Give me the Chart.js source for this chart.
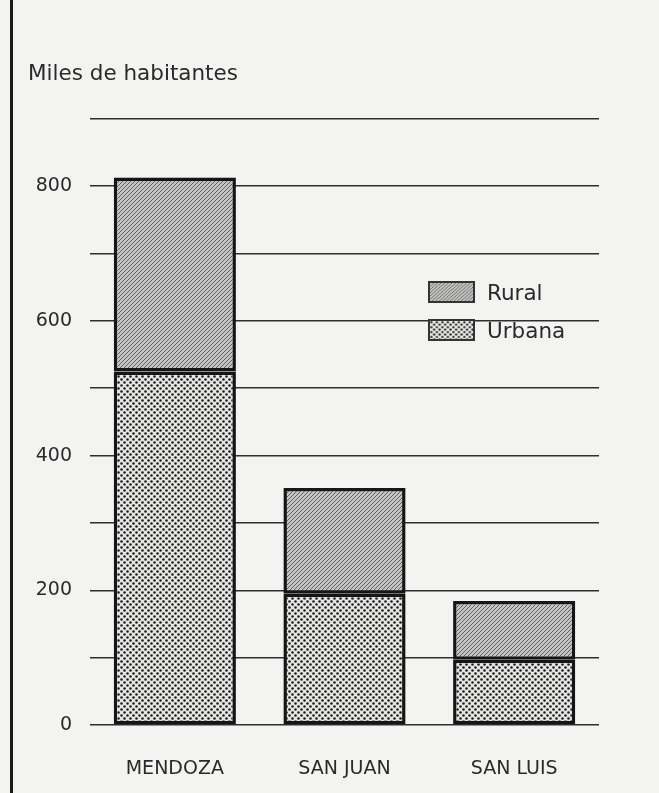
<!DOCTYPE html>
<html>
<head>
<meta charset="utf-8">
<script src="https://cdn.jsdelivr.net/npm/chart.js@4"></script>
<style>
  html, body { margin:0; padding:0; background:#f3f3f1; }
  #wrap { position:relative; width:659px; height:793px; overflow:hidden; }
  #edge { position:absolute; left:10px; top:0; width:3px; height:793px; background:#1a1a1a; }
  #legend { position:absolute; left:428px; top:273px; font-family:"DejaVu Sans", sans-serif; font-size:21.5px; color:#2a2a2a; }
  #legend div { display:flex; align-items:center; height:38px; }
  #legend canvas { width:47px; height:22px; margin-right:12px; box-sizing:border-box; border:2px solid #333; }
</style>
</head>
<body>
<div id="wrap">
  <canvas id="chart" width="659" height="793"></canvas>
  <div id="edge"></div>
  <div id="legend">
    <div><canvas id="sw-rural" width="47" height="22"></canvas>Rural</div>
    <div><canvas id="sw-urb" width="47" height="22"></canvas>Urbana</div>
  </div>
</div>
<script>
const provincias = ["MENDOZA", "SAN JUAN", "SAN LUIS"];
const urbana = [525, 195, 97];
const rural = [288, 157, 87];
const yTicks = [0, 200, 400, 600, 800];

function ruralTile() {
  const c = document.createElement("canvas");
  c.width = 4; c.height = 4;
  const g = c.getContext("2d");
  g.fillStyle = "#c4c4c2"; g.fillRect(0, 0, 4, 4);
  g.strokeStyle = "#555"; g.lineWidth = 0.9;
  g.beginPath();
  g.moveTo(0, 4); g.lineTo(4, 0);
  g.moveTo(-1, 1); g.lineTo(1, -1);
  g.moveTo(3, 5); g.lineTo(5, 3);
  g.stroke();
  return c;
}

function urbanaTile() {
  const c = document.createElement("canvas");
  c.width = 6; c.height = 6;
  const g = c.getContext("2d");
  g.fillStyle = "#e6e6e4"; g.fillRect(0, 0, 6, 6);
  g.fillStyle = "#1f1f1f";
  [[1.5, 1.5], [4.5, 4.5]].forEach(([x, y]) => {
    g.beginPath(); g.arc(x, y, 1.3, 0, Math.PI * 2); g.fill();
  });
  return c;
}

const ctx = document.getElementById("chart").getContext("2d");
const patRural = ctx.createPattern(ruralTile(), "repeat");
const patUrb = ctx.createPattern(urbanaTile(), "repeat");

["sw-rural", "sw-urb"].forEach((id, i) => {
  const g = document.getElementById(id).getContext("2d");
  g.fillStyle = g.createPattern(i ? urbanaTile() : ruralTile(), "repeat");
  g.fillRect(0, 0, 47, 22);
});

const font = "'DejaVu Sans', sans-serif";

new Chart(ctx, {
  type: "bar",
  data: {
    labels: provincias,
    datasets: [
      { label: "Urbana", data: urbana, backgroundColor: patUrb, borderColor: "#151515", borderWidth: 3.5, borderSkipped: false },
      { label: "Rural", data: rural, backgroundColor: patRural, borderColor: "#151515", borderWidth: 3.5, borderSkipped: false }
    ]
  },
  options: {
    responsive: false,
    animation: false,
    layout: { padding: { left: 28, right: 60, top: 0, bottom: 0 } },
    plugins: {
      legend: { display: false },
      tooltip: { enabled: false },
      title: {
        display: true,
        text: "Miles de habitantes",
        align: "start",
        color: "#2a2a2a",
        font: { family: font, size: 21.5, weight: "normal" },
        padding: { top: 62, bottom: 31 }
      }
    },
    scales: {
      x: {
        stacked: true,
        categoryPercentage: 1,
        barPercentage: 0.72,
        grid: { display: false },
        border: { display: false },
        ticks: { color: "#2a2a2a", font: { family: font, size: 19 }, padding: 25 },
        afterFit: s => { s.height = 68; }
      },
      y: {
        stacked: true,
        min: 0,
        max: 900,
        border: { display: false },
        grid: { color: "#2e2e2e", lineWidth: 1.5, drawTicks: false },
        ticks: {
          stepSize: 100,
          color: "#2a2a2a",
          font: { family: font, size: 19 },
          padding: 18,
          callback: v => yTicks.includes(v) ? v : ""
        },
        afterFit: s => { s.width = 62; }
      }
    }
  }
});
</script>
</body>
</html>
